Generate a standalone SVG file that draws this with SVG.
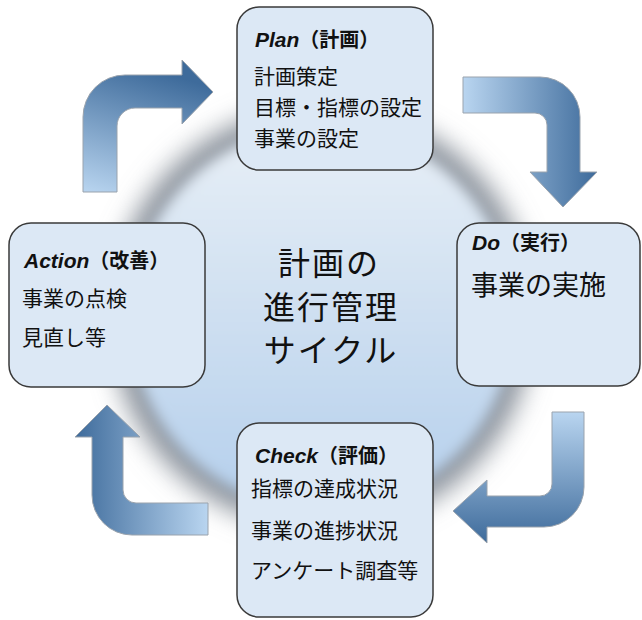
<svg xmlns="http://www.w3.org/2000/svg" width="642" height="620" viewBox="0 0 642 620">
<style>
.box{fill:#dce8f5;stroke:#3a3a3a;stroke-width:1.5}
.t{font-family:"Noto Sans CJK JP","Liberation Sans",sans-serif;font-size:21px;fill:#111}
.h{font-family:"Noto Sans CJK JP",sans-serif;font-size:20px;font-weight:bold;fill:#111}
.en{font-family:"Liberation Sans",Arial,sans-serif;font-style:italic;font-weight:bold;font-size:21px}
.c{font-family:"Noto Sans CJK JP",sans-serif;font-size:32px;fill:#111;letter-spacing:2px;text-anchor:middle}
.arr{stroke:#9aa3ad;stroke-width:1}
</style>
<defs>
<filter id="blurA" x="-30%" y="-30%" width="160%" height="160%"><feGaussianBlur stdDeviation="13"/></filter>
<filter id="blurB" x="-30%" y="-30%" width="160%" height="160%"><feGaussianBlur stdDeviation="7"/></filter>
<linearGradient id="bg" x1="0" y1="0" x2="0" y2="1">
<stop offset="0" stop-color="#e8eff6"/><stop offset="1" stop-color="#b4cfec"/>
</linearGradient>
<linearGradient id="g1" x1="0" y1="1" x2="0.3" y2="0">
<stop offset="0" stop-color="#b9d5f0"/><stop offset="1" stop-color="#3e6b9b"/>
</linearGradient>
<linearGradient id="g2" x1="0" y1="0" x2="1" y2="0">
<stop offset="0" stop-color="#b9d5f0"/><stop offset="1" stop-color="#3e6b9b"/>
</linearGradient>
<linearGradient id="g3" x1="0" y1="0" x2="0" y2="1">
<stop offset="0" stop-color="#b9d5f0"/><stop offset="1" stop-color="#3e6b9b"/>
</linearGradient>
<linearGradient id="g4" x1="1" y1="0" x2="0" y2="0">
<stop offset="0" stop-color="#b9d5f0"/><stop offset="1" stop-color="#3e6b9b"/>
</linearGradient>
</defs>
<rect width="642" height="620" fill="#ffffff"/>
<g id="background">
<circle cx="322" cy="318" r="212" fill="#8a929b" filter="url(#blurA)"/>
<circle cx="322" cy="318" r="192" fill="url(#bg)" filter="url(#blurB)"/>
</g>
<g id="connectors">
<path class="arr" fill="url(#g1)" d="M83,192 L83,117 A42,42 0 0 1 125,75 L182,75 L182,60 L213,92 L182,124 L182,108 L135,108 A18,18 0 0 0 117,126 L117,192 Z"/>
<path class="arr" fill="url(#g2)" d="M463,77 L540,77 A40,40 0 0 1 580,117 L580,172 L597,172 L563,207 L530,172 L547,172 L547,125 A12,12 0 0 0 535,113 L463,113 Z"/>
<path class="arr" fill="url(#g3)" d="M552,412 L584,412 L584,487 A40,40 0 0 1 544,527 L487,527 L487,543 L453,511 L487,480 L487,496 L540,496 A12,12 0 0 0 552,484 Z"/>
<path class="arr" fill="url(#g4)" d="M107,405 L140,437 L123,437 L123,490 A13,13 0 0 0 136,503 L208,503 L208,535 L132,535 A40,40 0 0 1 92,495 L92,437 L75,437 Z"/>
</g>
<g id="center">
<text class="c" x="329" y="275">計画の</text>
<text class="c" x="331" y="319">進行管理</text>
<text class="c" x="331" y="362">サイクル</text>
</g>
<g id="plan">
<rect class="box" x="237" y="7" width="196" height="163" rx="22"/>
<text class="h" x="255" y="47"><tspan class="en">Plan</tspan>（計画）</text>
<text class="t" x="254" y="84">計画策定</text>
<text class="t" x="254" y="115">目標・指標の設定</text>
<text class="t" x="254" y="146">事業の設定</text>
</g>
<g id="do">
<rect class="box" x="457" y="223" width="183" height="163" rx="22"/>
<text class="h" x="472" y="250"><tspan class="en">Do</tspan>（実行）</text>
<text class="t" x="471" y="295" style="font-size:27px">事業の実施</text>
</g>
<g id="action">
<rect class="box" x="9" y="223" width="196" height="164" rx="22"/>
<text class="h" x="24" y="268"><tspan class="en">Action</tspan>（改善）</text>
<text class="t" x="22" y="306">事業の点検</text>
<text class="t" x="22" y="345">見直し等</text>
</g>
<g id="check">
<rect class="box" x="237" y="423" width="196" height="194" rx="22"/>
<text class="h" x="255" y="463"><tspan class="en">Check</tspan>（評価）</text>
<text class="t" x="251" y="496">指標の達成状況</text>
<text class="t" x="251" y="538">事業の進捗状況</text>
<text class="t" x="251" y="578">アンケート調査等</text>
</g>
</svg>
